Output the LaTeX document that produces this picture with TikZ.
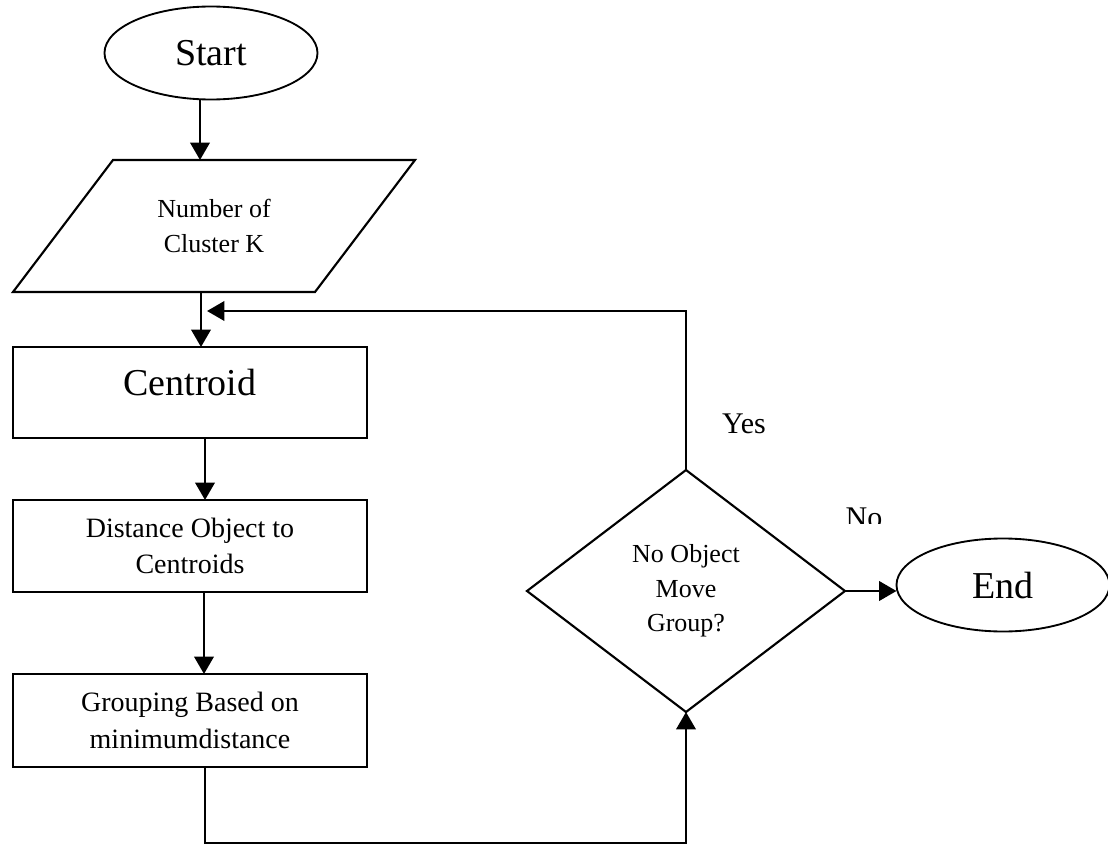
\documentclass[tikz,border=0pt]{standalone}
\usepackage{fontspec}
\setmainfont{Liberation Serif}
\usetikzlibrary{shapes.geometric,arrows.meta}
\begin{document}
\begin{tikzpicture}[x=0.75pt,y=-0.75pt,
  line width=1.6pt,
  every node/.style={inner sep=0pt, outer sep=0pt},
  term/.style={draw, ellipse, line width=1.4pt, minimum width=159.75pt, minimum height=69.75pt, font=\fontsize{28.5}{30}\selectfont},
  procbox/.style={draw, rectangle, minimum width=265.5pt, align=center, font=\fontsize{21}{27.5}\selectfont},
  iobox/.style={rectangle, minimum width=226.5pt, minimum height=99pt, align=center, font=\fontsize{19.5}{26}\selectfont},
  decide/.style={draw, diamond, minimum width=238.5pt, minimum height=181.5pt, align=center, font=\fontsize{19.5}{26}\selectfont},
  bigtxt/.style={font=\fontsize{28.5}{30}\selectfont},
  lbl/.style={font=\fontsize{22.5}{24}\selectfont},
  arr/.style={line width=1.9pt, -{Triangle[width=14.5pt,length=13pt]}}
]
\useasboundingbox (0,0) rectangle (1108,846);

\node[term] (start) at (211,53) {Start};
\node[iobox] (para) at (214,226) {Number of\\Cluster K};
\draw ([xshift=37.5pt]para.north west) -- ([xshift=37.5pt]para.north east)
      -- ([xshift=-37.5pt]para.south east) -- ([xshift=-37.5pt]para.south west) -- cycle;
\node[procbox, minimum height=68.25pt] (cent) at (190,392.5) {};
\node[bigtxt] (centtxt) at ([yshift=7.5pt]cent.center) {Centroid};
\node[procbox, minimum height=69pt] (dist) at (190,546) {Distance Object to\\Centroids};
\node[procbox, minimum height=69.75pt] (group) at (190,720.5) {Grouping Based on\\minimumdistance};
\node[decide] (dec) at (686,591) {No Object\\Move\\Group?};
\node[term] (end) at (1003,585) {End};

\node[lbl] (yes) at (744,424) {Yes};
\begin{scope}
  \clip (820,480) rectangle (920,523);
  \node[lbl] (no) at (864,518) {No};
\end{scope}

\draw[arr] ([xshift=-8.25pt]start.south) -- ([xshift=-8.25pt]start.south |- para.north);
\draw[arr] ([xshift=-9.75pt]para.south) -- ([xshift=8.25pt]cent.north);
\draw[arr] ([xshift=11.25pt]cent.south) -- ([xshift=11.25pt]dist.north);
\draw[arr] ([xshift=10.5pt]dist.south) -- ([xshift=10.5pt]group.north);
\draw[arr] ([xshift=11.25pt]group.south) -- ++(0,76) -| (dec.south);
\draw[arr] (dec.north) -- ++(0,-159) -- ++(-479,0);
\draw[arr] (dec.east) -- (end.west |- dec.east);
\end{tikzpicture}
\end{document}
